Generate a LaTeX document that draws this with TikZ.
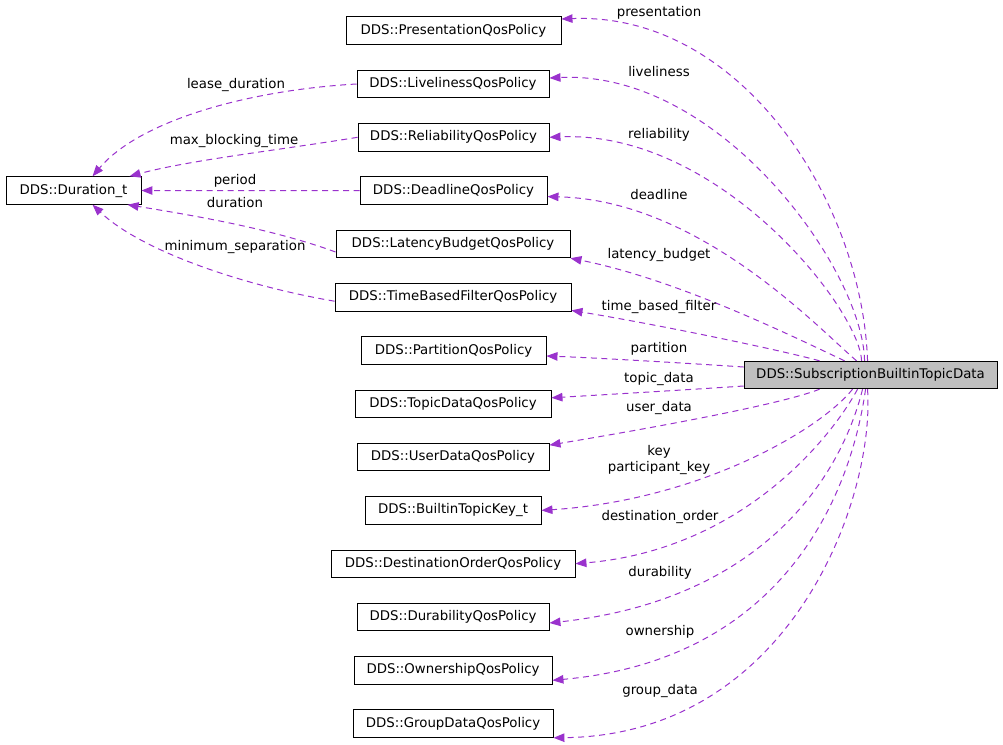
\documentclass[tikz,border=0pt]{standalone}
\usepackage{fontspec}
\setmainfont{DejaVu Sans}
\usetikzlibrary{arrows.meta}
\definecolor{edgec}{RGB}{154,50,205}
\definecolor{mainfill}{RGB}{191,191,191}
\begin{document}
\begin{tikzpicture}[x=1pt,y=-1pt,
  font=\fontsize{13.33}{16}\selectfont,
  box/.style={draw=black,line width=0.9pt,fill=white,minimum height=27.5pt,inner xsep=4pt,inner ysep=0pt,text height=10pt,text depth=3pt,anchor=center},
  mainbox/.style={box,fill=mainfill},
  edge/.style={draw=edgec,line width=1pt,dash pattern=on 6pt off 4.5pt,-{Triangle[length=11pt,width=8.5pt]}},
  lbl/.style={anchor=base,inner sep=0pt}]
\useasboundingbox (0,0) rectangle (1003,744);

% nodes
\node[mainbox,minimum width=253pt] (main) at (870.5,375) {DDS::SubscriptionBuiltinTopicData};
\node[box,minimum width=135pt] (dur) at (73.5,190.5) {DDS::Duration\_t};
\node[box,minimum width=215pt] (pres) at (453.5,30.5) {DDS::PresentationQosPolicy};
\node[box,minimum width=192pt] (live) at (453,84) {DDS::LivelinessQosPolicy};
\node[box,minimum width=191pt] (rel) at (453.5,137.3) {DDS::ReliabilityQosPolicy};
\node[box,minimum width=187pt] (dead) at (453.5,190.6) {DDS::DeadlineQosPolicy};
\node[box,minimum width=234pt] (lat) at (453,244) {DDS::LatencyBudgetQosPolicy};
\node[box,minimum width=236pt] (tbf) at (453,297.2) {DDS::TimeBasedFilterQosPolicy};
\node[box,minimum width=185pt] (part) at (453.5,350.5) {DDS::PartitionQosPolicy};
\node[box,minimum width=196pt] (topic) at (453,403.8) {DDS::TopicDataQosPolicy};
\node[box,minimum width=192pt] (user) at (453,457.1) {DDS::UserDataQosPolicy};
\node[box,minimum width=176pt] (bkey) at (453,510.4) {DDS::BuiltinTopicKey\_t};
\node[box,minimum width=244pt] (dest) at (453,563.7) {DDS::DestinationOrderQosPolicy};
\node[box,minimum width=192pt] (durab) at (453,617) {DDS::DurabilityQosPolicy};
\node[box,minimum width=198pt] (own) at (453,670.3) {DDS::OwnershipQosPolicy};
\node[box,minimum width=200pt] (group) at (453,723.6) {DDS::GroupDataQosPolicy};

% edges from main
\draw[edge] ([xshift=124pt]main.north west) .. controls (862,200) and (740,12) .. ([yshift=11.5pt]pres.east);
\draw[edge] ([xshift=121pt]main.north west) .. controls (863,270) and (720,70) .. ([yshift=6pt]live.east);
\draw[edge] ([xshift=118pt]main.north west) .. controls (860,310) and (720,130) .. (rel.east);
\draw[edge] ([xshift=113pt]main.north west) .. controls (820,330) and (700,200) .. ([yshift=-6pt]dead.east);
\draw[edge] ([xshift=101pt]main.north west) .. controls (800,340) and (680,280) .. (lat.south east);
\draw[edge] ([xshift=76pt]main.north west) .. controls (780,350) and (660,325) .. ([yshift=1pt]tbf.south east);
\draw[edge] ([yshift=8pt]main.west) .. controls (700,364) and (600,358) .. ([yshift=-5.5pt]part.east);
\draw[edge] ([yshift=-11pt]main.west) .. controls (700,389) and (600,395) .. ([yshift=6pt]topic.east);
\draw[edge] ([xshift=76pt]main.south west) .. controls (780,405) and (640,430) .. ([yshift=12pt]user.east);
\draw[edge] ([xshift=109pt]main.south west) .. controls (820,430) and (700,500) .. (bkey.east);
\draw[edge] ([xshift=114pt]main.south west) .. controls (830,440) and (740,550) .. (dest.east);
\draw[edge] ([xshift=119pt]main.south west) .. controls (840,480) and (760,600) .. ([yshift=-6pt]durab.east);
\draw[edge] ([xshift=122pt]main.south west) .. controls (850,500) and (780,660) .. ([yshift=-10pt]own.east);
\draw[edge] ([xshift=124pt]main.south west) .. controls (875,500) and (790,735) .. (group.south east);

% edges to Duration_t
\draw[edge] (live.west) .. controls (250,90) and (140,120) .. ([xshift=87pt]dur.north west);
\draw[edge] (rel.west) .. controls (280,150) and (190,160) .. ([xshift=124pt]dur.north west);
\draw[edge] (dead.west) -- (dur.east);
\draw[edge] ([yshift=-8pt]lat.west) .. controls (270,228) and (190,215) .. ([xshift=122pt]dur.south west);
\draw[edge] ([yshift=-4pt]tbf.west) .. controls (240,285) and (140,250) .. ([xshift=87pt]dur.south west);

% edge labels
\node[lbl] (l1) at (659,16.5) {presentation};
\node[lbl] (l2) at (659,76.5) {liveliness};
\node[lbl] (l3) at (659,138.5) {reliability};
\node[lbl] (l4) at (659,199.5) {deadline};
\node[lbl] (l5) at (659,258) {latency\_budget};
\node[lbl] (l6) at (659,310.5) {time\_based\_filter};
\node[lbl] (l7) at (659,352.5) {partition};
\node[lbl] (l8) at (659,382.5) {topic\_data};
\node[lbl] (l9) at (659,411.5) {user\_data};
\node[lbl] (l10) at (659,455) {key};
\node[lbl] (l11) at (659,471.5) {participant\_key};
\node[lbl] (l12) at (660,520.5) {destination\_order};
\node[lbl] (l13) at (660,576.5) {durability};
\node[lbl] (l14) at (660,635.5) {ownership};
\node[lbl] (l15) at (660,694.5) {group\_data};
\node[lbl] (l16) at (236,88.5) {lease\_duration};
\node[lbl] (l17) at (234,144.5) {max\_blocking\_time};
\node[lbl] (l18) at (235,184.5) {period};
\node[lbl] (l19) at (235,207.5) {duration};
\node[lbl] (l20) at (235,250.5) {minimum\_separation};
\end{tikzpicture}
\end{document}
